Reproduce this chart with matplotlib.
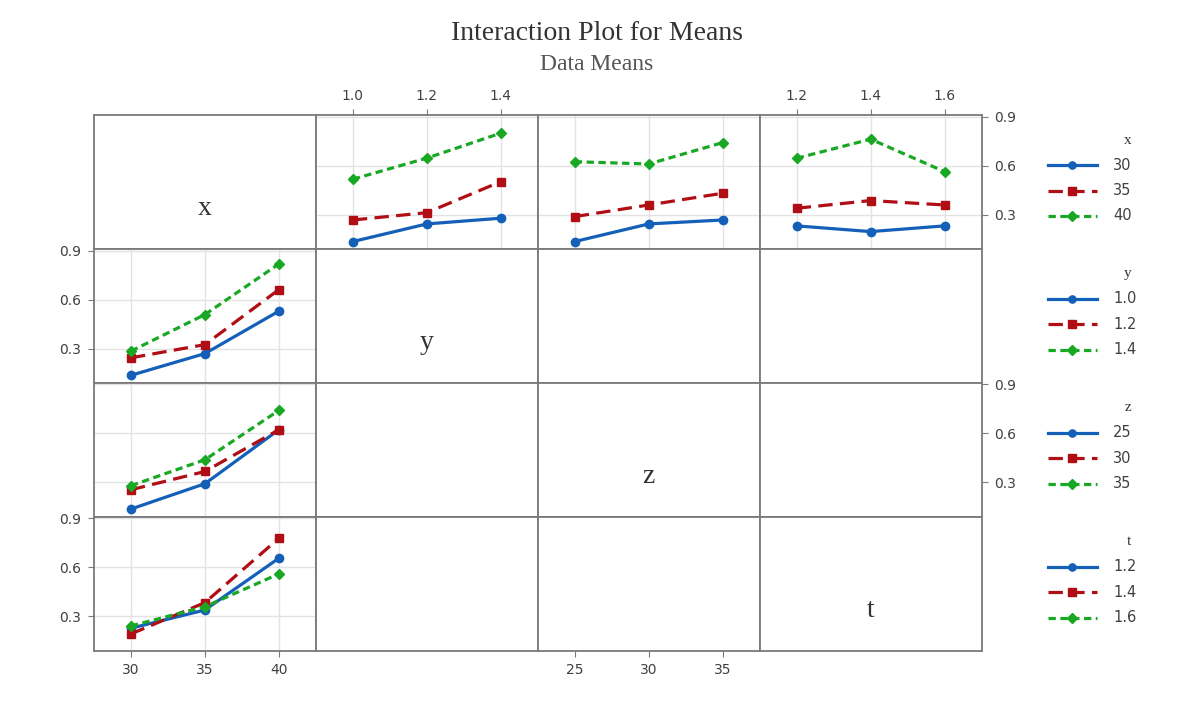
import matplotlib
matplotlib.use('Agg')
import matplotlib.pyplot as plt

# factor names and their levels
factors = ['x', 'y', 'z', 't']
x_levels = [30, 35, 40]
y_levels = [1.0, 1.2, 1.4]
z_levels = [25, 30, 35]
t_levels = [1.2, 1.4, 1.6]
levels = {'x': x_levels, 'y': y_levels, 'z': z_levels, 't': t_levels}
level_labels = {
    'x': ['30', '35', '40'],
    'y': ['1.0', '1.2', '1.4'],
    'z': ['25', '30', '35'],
    't': ['1.2', '1.4', '1.6'],
}

# means of x-level traces plotted against y, z, t (top row)
x_by_y = [[0.135, 0.243, 0.278], [0.267, 0.312, 0.502], [0.517, 0.646, 0.799]]
x_by_z = [[0.135, 0.243, 0.267], [0.288, 0.359, 0.431], [0.624, 0.610, 0.741]]
x_by_t = [[0.231, 0.196, 0.231], [0.339, 0.386, 0.359], [0.645, 0.762, 0.563]]
# means of y, z, t traces plotted against x (left column)
y_by_x = [[0.136, 0.269, 0.529], [0.243, 0.324, 0.661], [0.284, 0.508, 0.818]]
z_by_x = [[0.137, 0.292, 0.623], [0.255, 0.367, 0.623], [0.280, 0.439, 0.741]]
t_by_x = [[0.227, 0.339, 0.656], [0.192, 0.384, 0.778], [0.241, 0.359, 0.560]]

panels = {
    (0, 1): x_by_y, (0, 2): x_by_z, (0, 3): x_by_t,
    (1, 0): y_by_x, (2, 0): z_by_x, (3, 0): t_by_x,
}

y_ticks = [0.3, 0.6, 0.9]
y_lim = (0.09, 0.91)

colors = ['#1460b8', '#b00d14', '#19a824']
markers = ['o', 's', 'D']
styles = ['-', (0, (4.5, 2.3)), (0, (2.3, 1.4))]
msizes = [6.0, 6.0, 5.5]
frame = '#7a7a7a'
tick_col = '#404040'

fig = plt.figure(figsize=(12, 7.03), dpi=100)
W, H = 1200, 703
left, top = 94, 115
pw, ph = 221.9, 133.9

fig.text(597 / W, 1 - 34 / H, 'Interaction Plot for Means', ha='center', va='center',
         family='Liberation Serif', fontsize=20, color='#333333')
fig.text(597 / W, 1 - 64 / H, 'Data Means', ha='center', va='center',
         family='Liberation Serif', fontsize=17, color='#555555')

for i, rf in enumerate(factors):
    for j, cf in enumerate(factors):
        ax = fig.add_axes([(left + j * pw) / W, 1 - (top + (i + 1) * ph) / H, pw / W, ph / H])
        xl = levels[cf]
        rng = xl[-1] - xl[0]
        ax.set_xlim(xl[0] - 0.25 * rng, xl[-1] + 0.25 * rng)
        ax.set_ylim(*y_lim)
        for s in ax.spines.values():
            s.set_color(frame)
            s.set_linewidth(1.3)
        ax.tick_params(length=0, labelsize=10, colors=tick_col, pad=5)
        ax.set_xticks([])
        ax.set_yticks([])

        if i == j:
            ax.text(0.5, 0.30, cf, transform=ax.transAxes, ha='center', va='center',
                    family='Liberation Serif', fontsize=20, color='#333333')
            continue

        if (i, j) in panels:
            ax.set_xticks(xl)
            ax.set_yticks(y_ticks)
            ax.grid(True, color='#e3e3e3', linewidth=1.0)
            ax.set_axisbelow(True)
            ax.tick_params(labelbottom=False, labelleft=False)
            for k, vals in enumerate(panels[(i, j)]):
                ax.plot(xl, vals, color=colors[k], linestyle=styles[k], linewidth=2.3,
                        marker=markers[k], markersize=msizes[k], zorder=3)

        # axis labels on alternating sides
        if i == 0 and j in (1, 3):
            ax.set_xticks(xl)
            ax.set_xticklabels(level_labels[cf])
            ax.tick_params(axis='x', top=True, labeltop=True, bottom=False, labelbottom=False,
                           length=4, color=frame)
        if i == 3 and j in (0, 2):
            ax.set_xticks(xl)
            ax.set_xticklabels(level_labels[cf])
            ax.tick_params(axis='x', bottom=True, labelbottom=True, length=4, color=frame)
        if j == 0 and i in (1, 3):
            ax.set_yticks(y_ticks)
            ax.set_yticklabels(['0.3', '0.6', '0.9'])
            ax.tick_params(axis='y', left=True, labelleft=True, length=4, color=frame)
        if j == 3 and i in (0, 2):
            ax.set_yticks(y_ticks)
            ax.set_yticklabels(['0.3', '0.6', '0.9'])
            ax.tick_params(axis='y', right=True, labelright=True, left=False, labelleft=False,
                           length=4, color=frame)

# legends at the right, one block per factor
for i, f in enumerate(factors):
    ty = top + i * ph + 25
    fig.text(1131 / W, 1 - ty / H, f, ha='right', va='center', family='Liberation Serif',
             fontsize=11, color='#333333')
    for k in range(3):
        ey = ty + 25 + k * 25.5
        fig.lines.append(plt.Line2D([1048 / W, 1097 / W], [1 - ey / H, 1 - ey / H],
                                    transform=fig.transFigure, color=colors[k],
                                    linestyle=styles[k], linewidth=2.3))
        fig.lines.append(plt.Line2D([1072 / W], [1 - ey / H], transform=fig.transFigure,
                                    color=colors[k], marker=markers[k],
                                    markersize=msizes[k] - 0.8, linestyle='none'))
        fig.text(1113 / W, 1 - ey / H, level_labels[f][k], ha='left', va='center',
                 fontsize=10.5, color=tick_col)

fig.savefig('out.png', dpi=100)
